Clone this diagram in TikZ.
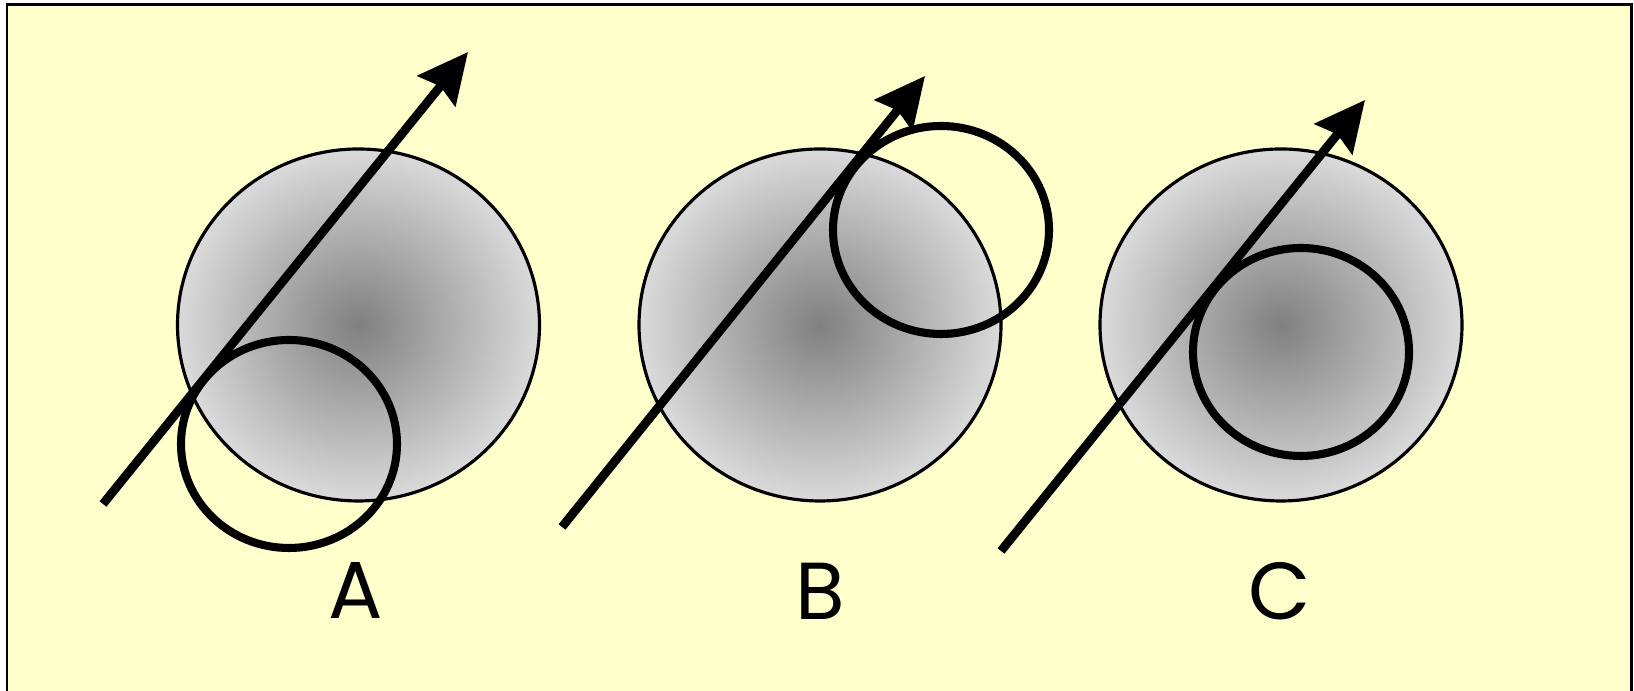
\documentclass[tikz,border=0pt]{standalone}
\usepackage{fontspec}
\setmainfont{Poppins}
\usepackage{tikz}
\usetikzlibrary{shapes.geometric, arrows.meta, positioning}
\definecolor{myyellow}{RGB}{255,255,204}
\definecolor{mycore}{RGB}{128,128,128}
\definecolor{myrim}{RGB}{218,218,218}
\tikzset{
  ball/.style={ellipse, draw=black, line width=0.9pt, minimum width=3.62cm, minimum height=3.52cm, inner color=mycore, outer color=myrim},
  ring/.style={ellipse, draw=black, line width=2.3pt, minimum width=2.16cm, minimum height=2.08cm},
  vec/.style={-{Stealth[length=0.5cm, width=0.48cm, inset=0.06cm]}, line width=2.5pt, color=black},
  tag/.style={font=\fontsize{23}{27}\selectfont}
}
\begin{document}
\begin{tikzpicture}
  % Frame
  \useasboundingbox (0,0) rectangle (16.34,6.91);
  \fill[myyellow] (0.07,0) rectangle (16.31,6.86);
  \draw[line width=0.85pt] (0.07,0) -- (0.07,6.86) -- (16.31,6.86) -- (16.31,0);

  % Case A
  \node[ball] (ballA) at (3.585,3.66) {};
  \node[ring] (ringA) at (2.89,2.47) {};
  \coordinate (startA) at (1.03,1.87);
  \coordinate (tipA) at (4.68,6.39);
  \draw[vec] (startA) -- (tipA);
  \node[tag] (labA) at (3.56,1.00) {A};

  % Case B
  \node[ball] (ballB) at (8.20,3.66) {};
  \node[ring] (ringB) at (9.41,4.61) {};
  \coordinate (startB) at (5.62,1.64);
  \coordinate (tipB) at (9.25,6.15);
  \draw[vec] (startB) -- (tipB);
  \node[tag] (labB) at (8.20,1.00) {B};

  % Case C
  \node[ball] (ballC) at (12.81,3.66) {};
  \node[ring] (ringC) at (13.01,3.39) {};
  \coordinate (startC) at (10.01,1.40);
  \coordinate (tipC) at (13.65,5.91);
  \draw[vec] (startC) -- (tipC);
  \node[tag] (labC) at (12.80,1.00) {C};
\end{tikzpicture}
\end{document}
